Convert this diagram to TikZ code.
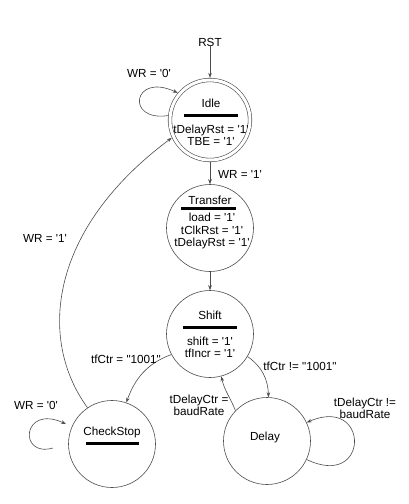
\documentclass[tikz,border=0pt]{standalone}
\usepackage{fontspec}
\setmainfont{Liberation Sans}[Ligatures=TeXOff]
\usetikzlibrary{arrows.meta}
\begin{document}
\begin{tikzpicture}[x=1pt,y=-1pt,
  state/.style={circle,draw=black!70,line width=0.6pt,minimum size=87pt,inner sep=0pt},
  lbl/.style={font=\fontsize{11.7}{12.3}\selectfont,inner sep=0pt,align=center,text=black},
  barline/.style={line width=3pt,black},
  tr/.style={draw=black!70,line width=0.6pt,-{Stealth[length=5pt,width=3.6pt]}},
]
\useasboundingbox (0,0) rectangle (408,504);

% states
\node[state,minimum size=80pt,double,double distance=3pt,outer sep=2.2pt] (idle) at (210,120) {};
\node[state] (transfer) at (210,228) {};
\node[state] (shift) at (210,334) {};
\node[state] (checkstop) at (112,444) {};
\node[state] (delay) at (267,441) {};

% state contents
\node[lbl] (idleT) at (211,103) {Idle};
\draw[barline] (184,115) -- (238,115);
\node[lbl] (idleB) at (211,135) {tDelayRst = '1'\\TBE = '1'};

\node[lbl] (transT) at (210,200) {Transfer};
\draw[barline] (181,208) -- (236,208);
\node[lbl] (transB) at (212,231) {load = '1'\\tClkRst = '1'\\tDelayRst = '1'};

\node[lbl] (shiftT) at (210,315) {Shift};
\draw[barline] (183,327) -- (237,327);
\node[lbl] (shiftB) at (210,347) {shift = '1'\\tfIncr = '1'};

\node[lbl] (csT) at (112,432) {CheckStop};
\draw[barline] (86,443) -- (139,443);

\node[lbl] (delT) at (265,437) {Delay};

% reset
\node[lbl] (rst) at (210,42) {RST};
\draw[tr] (rst) -- (idle);

% transitions
\draw[tr] (idle.174) .. controls (125,122) and (133,72) .. (idle.140);
\node[lbl] (l1) at (149,73) {WR = '0'};

\draw[tr] (idle) -- (transfer);
\node[lbl] (l2) at (240,174) {WR = '1'};

\draw[tr] (transfer) -- (shift);

\draw[tr] (shift.208) to[out=200,in=70] (checkstop.71);
\node[lbl] (l3) at (126,359) {tfCtr = "1001"};

\draw[tr] (shift.-31) to[out=-35,in=92] (delay.88);
\node[lbl] (l4) at (300,366) {tfCtr != "1001"};

\draw[tr] (delay.136) to[out=112,in=-78] (shift.-75);
\node[lbl] (l5) at (199,405) {tDelayCtr =\\baudRate};

\draw[tr] (delay.-25) .. controls (370,490) and (370,395) .. (delay.25);
\node[lbl] (l6) at (365,408) {tDelayCtr !=\\baudRate};

\coordinate (csa) at (53,448);
\coordinate (csb) at (66,424);
\draw[tr] (csa) .. controls (18,458) and (22,404) .. (csb);
\node[lbl] (l7) at (36,405) {WR = '0'};

\draw[tr] (checkstop.124) .. controls (38,340) and (48,230) .. (idle.205);
\node[lbl] (l8) at (45,238) {WR = '1'};
\end{tikzpicture}
\end{document}
